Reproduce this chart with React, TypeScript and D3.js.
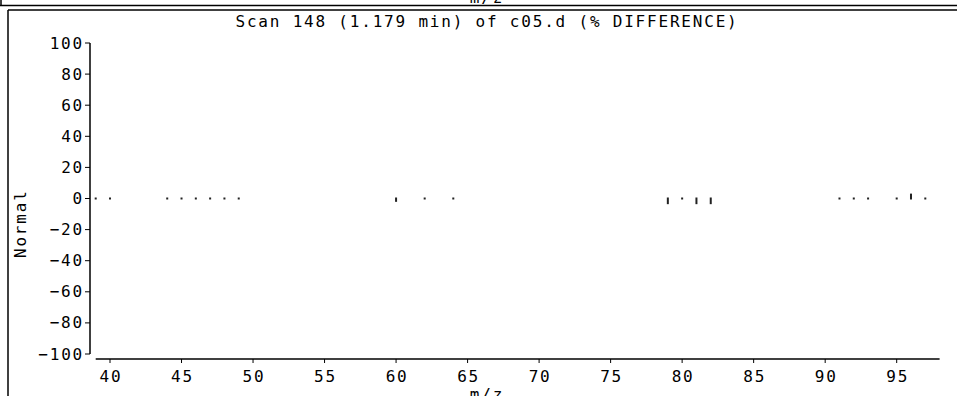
import React from "react";
import * as d3 from "d3";

const mzValues = [39, 40, 44, 45, 46, 47, 48, 49, 60, 62, 64, 79, 80, 81, 82, 91, 92, 93, 95, 96, 97];
const diffValues = [0, 0, 0, 0, 0, 0, 0, 0, -1.5, 0, 0, -3, 0, -3, -3, 0, 0, 0, 0, 2.5, 0];
const xTicks = [40, 45, 50, 55, 60, 65, 70, 75, 80, 85, 90, 95];
const yTicks = [100, 80, 60, 40, 20, 0, -20, -40, -60, -80, -100];
const titleText = "Scan 148 (1.179 min) of c05.d (% DIFFERENCE)";
const xLabel = "m/z";
const yLabel = "Normal";

const W = 957;
const H = 396;
const FONT = "'DejaVu Sans Mono', 'Liberation Mono', monospace";

export default function App() {
  const x = d3.scaleLinear().domain([39, 98]).range([95.7, 939.6]);
  const y = d3.scaleLinear().domain([-100, 100]).range([354, 43]);
  const axisX = 90;
  const axisY = 359;
  const textStyle: React.CSSProperties = { fontFamily: FONT, fontSize: 16, letterSpacing: "1.8px" };
  const fmt = (t: number) => (t < 0 ? "\u2212" + Math.abs(t) : String(t));

  return (
    <svg
      width={W}
      height={H}
      style={{ position: "absolute", left: 0, top: 0, background: "#fff" }}
      xmlns="http://www.w3.org/2000/svg"
    >
      <rect x={0} y={0} width={W} height={H} fill="#fff" />
      {/* previous panel remnant */}
      <text x={487} y={3} textAnchor="middle" style={textStyle} fill="#000">{xLabel}</text>
      <line x1={1} y1={0} x2={1} y2={6} stroke="#000" strokeWidth={1.5} />
      <line x1={0} y1={5.5} x2={W} y2={5.5} stroke="#000" strokeWidth={1.5} />
      {/* current panel frame */}
      <line x1={8} y1={10} x2={W} y2={10} stroke="#000" strokeWidth={1.5} />
      <line x1={8} y1={10} x2={8} y2={H} stroke="#000" strokeWidth={1.5} />

      <text x={487} y={27} textAnchor="middle" style={textStyle} fill="#000">{titleText}</text>

      {/* y axis */}
      <line x1={axisX} y1={y(100)} x2={axisX} y2={y(-100)} stroke="#000" strokeWidth={1.5} />
      {yTicks.map((t) => (
        <g key={"yt" + t}>
          <line x1={axisX - 5} x2={axisX} y1={y(t)} y2={y(t)} stroke="#000" strokeWidth={1} />
          <text x={84} y={y(t) + 5.5} textAnchor="end" style={textStyle} fill="#000">{fmt(t)}</text>
        </g>
      ))}

      {/* x axis */}
      <line x1={x(39)} y1={axisY} x2={x(98)} y2={axisY} stroke="#000" strokeWidth={1.5} />
      {xTicks.map((t) => (
        <g key={"xt" + t}>
          <line x1={x(t)} x2={x(t)} y1={axisY} y2={axisY + 4} stroke="#000" strokeWidth={1} />
          <text x={x(t) + 1} y={382} textAnchor="middle" style={textStyle} fill="#000">{t}</text>
        </g>
      ))}
      <text x={487} y={400} textAnchor="middle" style={textStyle} fill="#000">{xLabel}</text>

      {/* y label */}
      <text
        transform={`translate(26,258) rotate(-90)`}
        textAnchor="start"
        style={textStyle}
        fill="#000"
      >
        {yLabel}
      </text>

      {/* data marks */}
      {mzValues.map((m, i) => {
        const v = diffValues[i];
        const y0 = y(0);
        const yv = y(v);
        const top = Math.min(y0, yv) - 1;
        const bottom = Math.max(y0, yv) + 1;
        return (
          <rect
            key={"m" + m}
            x={x(m) - 1}
            y={top}
            width={2}
            height={bottom - top}
            fill="#222"
          />
        );
      })}
    </svg>
  );
}
